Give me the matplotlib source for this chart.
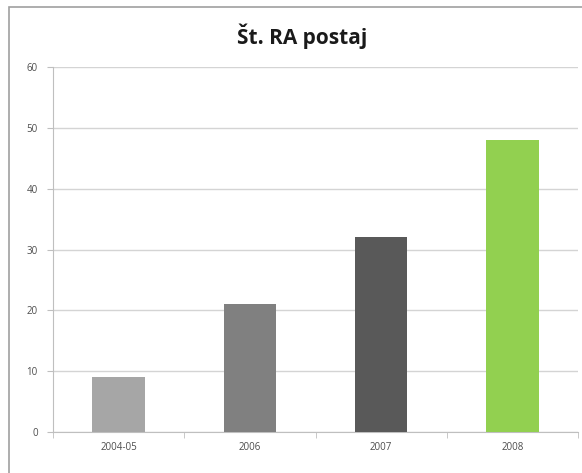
import matplotlib.pyplot as plt
from matplotlib.patches import Rectangle
import numpy as np

categories = ['2004-05', '2006', '2007', '2008']
values = [9, 21, 32, 48]
colors = ['#A6A6A6', '#808080', '#595959', '#92D050']
y_ticks = [0, 10, 20, 30, 40, 50, 60]

plt.rcParams['font.family'] = ['Open Sans', 'DejaVu Sans']

fig = plt.figure(figsize=(5.82, 4.73), dpi=100)
W, H = 582, 473

# outer chart border
fig.patches.append(Rectangle((8.5 / W, -0.1), 1.2, (H - 7.5) / H + 0.1,
                             transform=fig.transFigure, fill=False,
                             edgecolor='#A0A0A0', linewidth=1.2))

ax = fig.add_axes([53 / W, (H - 432) / H, (578 - 53) / W, (432 - 67) / H])

x = np.arange(len(categories))
ax.bar(x, values, width=0.4, color=colors, zorder=3)

ax.set_xlim(-0.5, len(categories) - 0.5)
ax.set_ylim(0, 60)
ax.set_yticks(y_ticks)
ax.yaxis.grid(True, color='#D4D4D4', linewidth=1, zorder=0)

for s in ['top', 'right']:
    ax.spines[s].set_visible(False)
ax.spines['left'].set_color('#BFBFBF')
ax.spines['bottom'].set_color('#BFBFBF')

ax.set_xticks(x)
ax.set_xticklabels(categories)
ax.set_xticks(np.arange(len(categories) + 1) - 0.5, minor=True)
ax.tick_params(axis='x', which='major', length=0, pad=7, labelsize=7, labelcolor='#4D4D4D')
ax.tick_params(axis='x', which='minor', length=4, color='#BFBFBF')
ax.tick_params(axis='y', length=4, color='#BFBFBF', pad=7, labelsize=7, labelcolor='#4D4D4D')

fig.text(302 / W, 1 - 36 / H, 'Št. RA postaj', ha='center', va='center',
         fontsize=15, fontweight='bold', color='#1A1A1A')

fig.savefig('out.png', dpi=100)
